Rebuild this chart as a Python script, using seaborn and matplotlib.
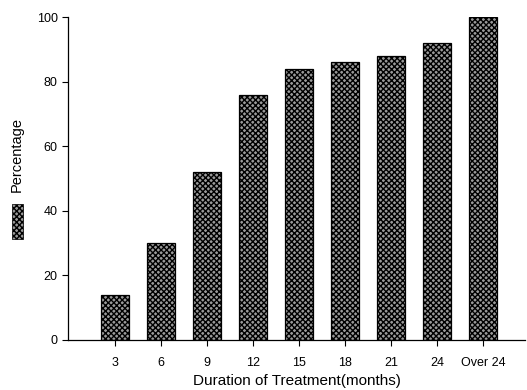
import numpy as np
import pandas as pd
from matplotlib import pyplot as plt
from matplotlib.patches import Rectangle
import seaborn as sns

durations = ['3', '6', '9', '12', '15', '18', '21', '24', 'Over 24']
percentages = [14, 30, 52, 76, 84, 86, 88, 92, 100]

df = pd.DataFrame({'Duration': durations, 'Percentage': percentages})

sns.set_style('ticks')
plt.rcParams['font.family'] = ['Liberation Sans', 'DejaVu Sans']
plt.rcParams.update({'font.size': 9, 'hatch.linewidth': 1.0,
                     'text.color': 'black', 'xtick.color': 'black', 'ytick.color': 'black',
                     'axes.labelcolor': 'black', 'axes.edgecolor': 'black'})

fig = plt.figure(figsize=(5.27, 3.9), dpi=100)
ax = fig.add_axes([68/527, 1 - 340/390, (525-68)/527, (340-17)/390])

sns.barplot(data=df, x='Duration', y='Percentage', ax=ax, width=0.61,
            color='#9a9a9a', edgecolor='black', linewidth=0.9)
for bar in ax.patches:
    bar.set_hatch('xxxxxx')

ax.set_xlim(-1.02, 8.91)
ax.set_ylim(0, 100)
ax.set_yticks(np.arange(0, 101, 20))
ax.set_xlabel('Duration of Treatment(months)', fontsize=11, labelpad=4)
ax.set_ylabel('')
ax.tick_params(axis='both', direction='out', length=4, width=0.8, labelsize=9,
               colors='black')
ax.tick_params(axis='x', pad=8)
for s in ['left', 'bottom']:
    ax.spines[s].set_linewidth(0.9)
sns.despine(ax=ax)

# legend-like key on the left
fig.patches.append(Rectangle((12/527, 1 - 239/390), 11/527, 35/390,
                             transform=fig.transFigure, facecolor='#9a9a9a',
                             edgecolor='black', linewidth=0.5, hatch='xxxxxx'))
fig.text(17/527, 1 - 155/390, 'Percentage', rotation=90, ha='center', va='center',
         fontsize=10.5)

plt.savefig('out.png', dpi=100)
